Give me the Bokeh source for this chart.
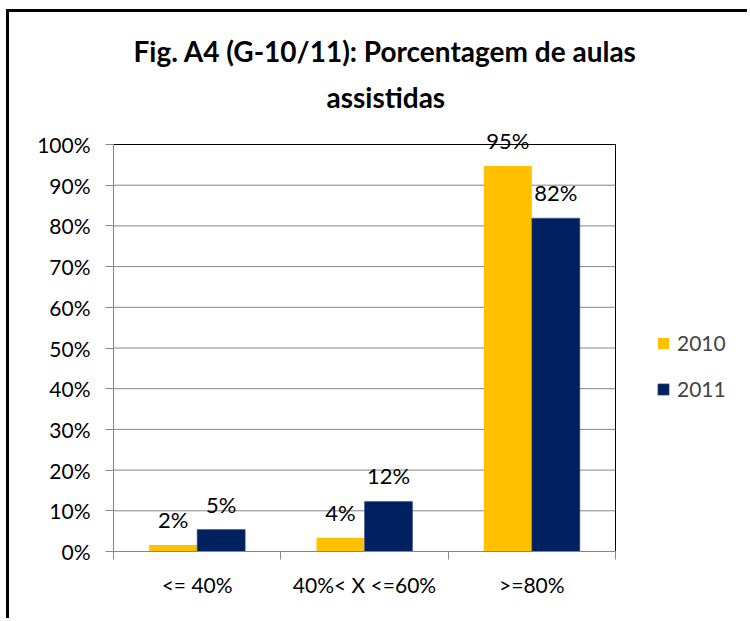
from bokeh.plotting import figure
from bokeh.models import (ColumnDataSource, Range1d, FixedTicker, NumeralTickFormatter,
                          Legend, LegendItem, Title, LabelSet)
from bokeh.core.properties import value
from bokeh.transform import dodge
from bokeh.embed import file_html
from bokeh.resources import INLINE

categories = ["<= 40%", "40%< X <=60%", ">=80%"]
series_names = ["2010", "2011"]
values_2010 = [0.016, 0.034, 0.947]
values_2011 = [0.054, 0.123, 0.819]
labels_2010 = ["2%", "4%", "95%"]
labels_2011 = ["5%", "12%", "82%"]
colors = ["#FFC000", "#002060"]
y_ticks = [0.0, 0.1, 0.2, 0.3, 0.4, 0.5, 0.6, 0.7, 0.8, 0.9, 1.0]
title_line1 = "Fig. A4 (G-10/11): Porcentagem de aulas"
title_line2 = "assistidas"

FONT = "Lato"
GRAY = "#868686"

n = len(categories)
# layout (pixels): plot area spans 502 px for the categories; frame extended to hold the legend
FRAME_W, CAT_SPAN = 632, 502
FRAME_H, VAL_SPAN = 427, 407

pos = [i + 0.5 for i in range(n)]
boundaries = [float(i) for i in range(n + 1)]
src = ColumnDataSource(dict(x=pos, v2010=values_2010, v2011=values_2011,
                            l2010=labels_2010, l2011=labels_2011))
grid_src = ColumnDataSource(dict(y=y_ticks[:-1]))

p = figure(width=741, height=609,
           x_range=Range1d(0, n * FRAME_W / CAT_SPAN),
           y_range=Range1d(0, y_ticks[-1] * FRAME_H / VAL_SPAN),
           output_backend="svg", toolbar_location=None, title=None,
           min_border_left=104, min_border_right=5, min_border_top=112, min_border_bottom=70)
p.styles = {"margin-left": "6px", "margin-top": "9px",
            "border-left": "3px solid black", "border-top": "3px solid black"}
p.outline_line_color = None

t2 = Title(text=title_line2, align="left", offset=213, standoff=21, text_font=FONT,
           text_font_size="28px", text_font_style="bold", text_color="black")
t1 = Title(text=title_line1, align="left", offset=20, standoff=0, text_font=FONT,
           text_font_size="28px", text_font_style="bold", text_color="black")
p.add_layout(t2, "above")
p.add_layout(t1, "above")

# gridlines (drawn under the bars), limited to the plot area
p.segment(x0=0, y0="y", x1=n, y1="y", source=grid_src, line_color=GRAY, line_width=1)

bw = 0.287
off = bw / 2
r1 = p.vbar(x=dodge("x", -off), top="v2010", width=bw, source=src,
            fill_color=colors[0], line_color=None)
r2 = p.vbar(x=dodge("x", off), top="v2011", width=bw, source=src,
            fill_color=colors[1], line_color="#3E5A8A", line_width=0.6)

# plot-area border: top and right in black
p.segment(x0=[0], y0=[y_ticks[-1]], x1=[n], y1=[y_ticks[-1]], line_color="black", line_width=1)
p.segment(x0=[n], y0=[y_ticks[0]], x1=[n], y1=[y_ticks[-1]], line_color="black", line_width=1)

for field, lab, d in (("v2010", "l2010", -off), ("v2011", "l2011", off)):
    ls = LabelSet(x=dodge("x", d), y=field, text=lab, source=src, text_align="center",
                  text_baseline="alphabetic", y_offset=17, text_font=value(FONT),
                  text_font_size="22px", text_color="black")
    p.add_layout(ls)

# y axis
p.yaxis.ticker = FixedTicker(ticks=y_ticks)
p.yaxis.bounds = (y_ticks[0], y_ticks[-1])
p.yaxis.formatter = NumeralTickFormatter(format="0%")
p.yaxis.axis_line_color = GRAY
p.yaxis.major_tick_line_color = GRAY
p.yaxis.major_tick_out = 8
p.yaxis.major_tick_in = 0
p.yaxis.minor_tick_line_color = None
p.yaxis.major_label_standoff = 15
p.yaxis.major_label_text_font = FONT
p.yaxis.major_label_text_font_size = "21px"
p.yaxis.major_label_text_color = "black"

# x axis
p.xaxis.ticker = FixedTicker(ticks=pos, minor_ticks=boundaries)
p.xaxis.bounds = (0, n)
p.xaxis.major_label_overrides = {x: c for x, c in zip(pos, categories)}
p.xaxis.axis_line_color = GRAY
p.xaxis.major_tick_out = 0
p.xaxis.major_tick_in = 0
p.xaxis.major_tick_line_color = None
p.xaxis.minor_tick_line_color = GRAY
p.xaxis.minor_tick_out = 8
p.xaxis.minor_tick_in = 0
p.xaxis.major_label_standoff = 12
p.xaxis.major_label_text_font = FONT
p.xaxis.major_label_text_font_size = "21px"
p.xaxis.major_label_text_color = "black"

p.xgrid.visible = False
p.ygrid.visible = False

legend = Legend(items=[LegendItem(label=series_names[0], renderers=[r1]),
                       LegendItem(label=series_names[1], renderers=[r2])],
                location=(543, 150), orientation="vertical",
                glyph_width=14, glyph_height=14, label_text_font=FONT,
                label_text_font_size="21px", label_standoff=7, spacing=21,
                padding=0, margin=0, border_line_color=None, background_fill_alpha=0)
p.add_layout(legend, "center")

open("out.html", "w").write(file_html(p, INLINE))
